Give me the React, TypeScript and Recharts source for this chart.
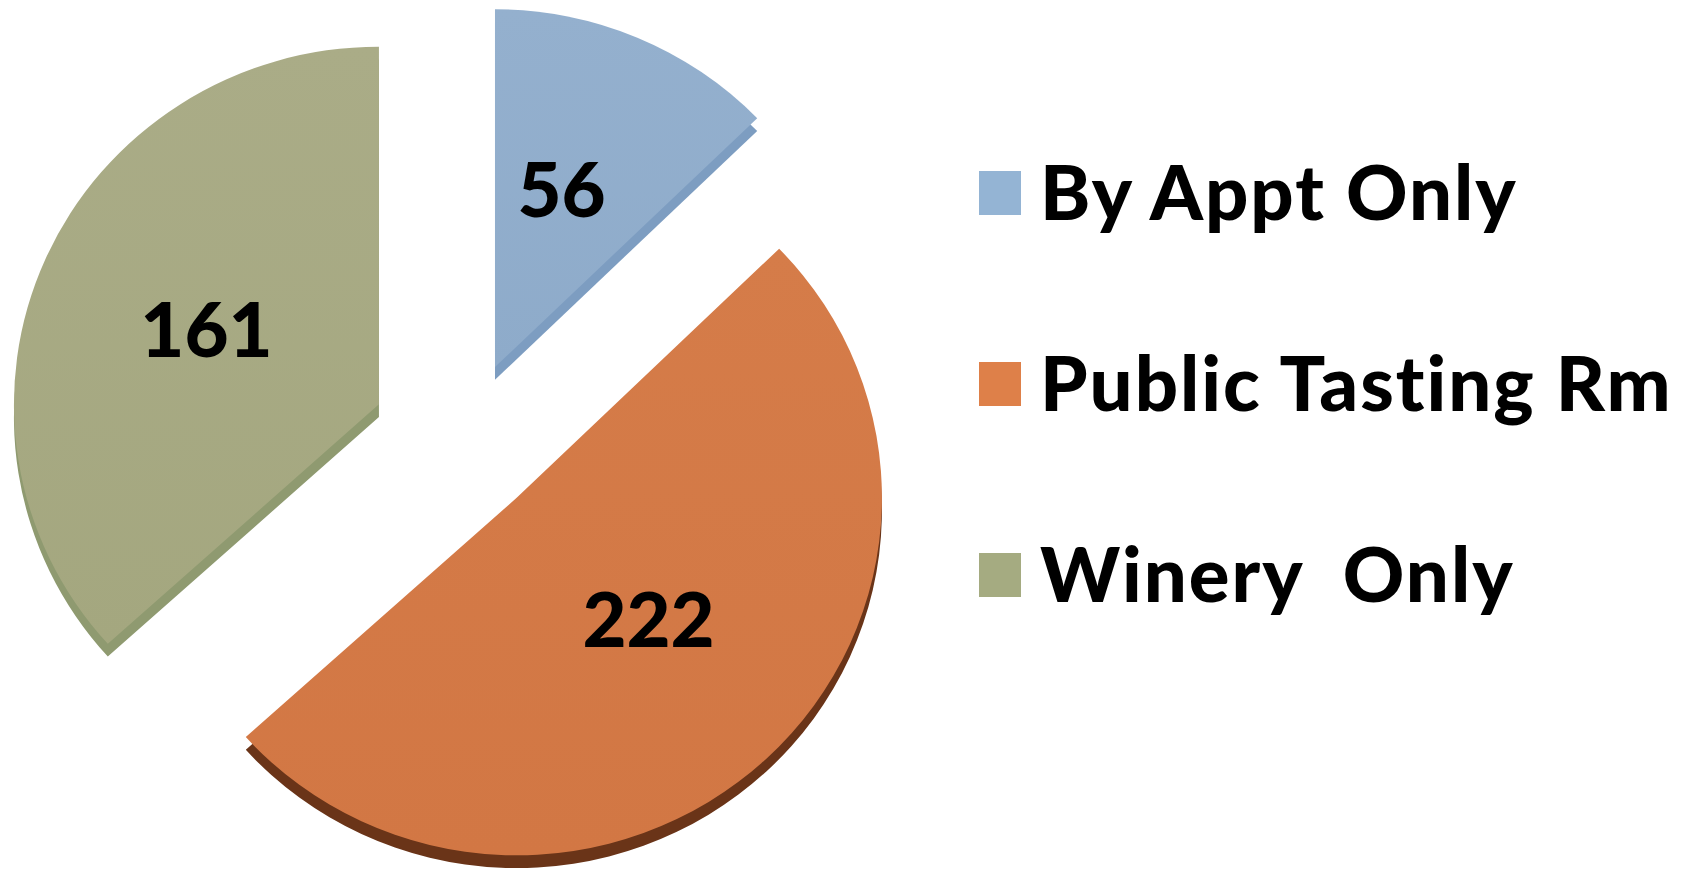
import { Legend, Pie, PieChart, Sector } from 'recharts'

const categories = ['By Appt Only', 'Public Tasting Rm', 'Winery  Only']
const counts = [56, 222, 161]

const faceTop = ['#94B0CE', '#D57C49', '#AAAC87']
const faceBottom = ['#8EABCA', '#D27744', '#A4A77F']
const sideColors = ['#7D9DC1', '#6A3418', '#8F9A70']
const legendColors = ['#94B4D4', '#DE8049', '#A5AB81']
const explode = [82, 79, 92]

// slight 3D tilt: the pie is squashed a little vertically
const CX = 463
const CY = 441
const SX = 1
const SY = 0.98
const DEPTH = 13
const LABEL_R = 186
const LABEL_TURN = 2
const RAD = Math.PI / 180

const data = categories.map((name, i) => ({ name, value: counts[i] }))

function sliceIndex(props: any) {
  const name = props.name ?? props.payload?.name
  const i = categories.indexOf(name)
  return i < 0 ? (props.index ?? 0) : i
}

function ExplodedSlice(props: any) {
  const { cx, cy, outerRadius, startAngle, endAngle, midAngle } = props
  const i = sliceIndex(props)
  const d = explode[i] ?? 0
  const x = cx + d * Math.cos(-midAngle * RAD)
  const y = cy + d * Math.sin(-midAngle * RAD)
  const tilt = `translate(${cx} ${cy}) scale(${SX} ${SY}) translate(${-cx} ${-cy})`
  return (
    <g transform={tilt}>
      <defs>
        <linearGradient id={`face-${i}`} x1="0" y1="0" x2="0" y2="1">
          <stop offset="0%" stopColor={faceTop[i]} />
          <stop offset="100%" stopColor={faceBottom[i]} />
        </linearGradient>
      </defs>
      <Sector
        cx={x}
        cy={y + DEPTH}
        innerRadius={0}
        outerRadius={outerRadius}
        startAngle={startAngle}
        endAngle={endAngle}
        fill={sideColors[i]}
      />
      <Sector
        cx={x}
        cy={y}
        innerRadius={0}
        outerRadius={outerRadius}
        startAngle={startAngle}
        endAngle={endAngle}
        fill={`url(#face-${i})`}
      />
    </g>
  )
}

function renderLabel(props: any) {
  const { cx, cy, midAngle, value } = props
  const i = sliceIndex(props)
  const d = explode[i]
  const ax = d * Math.cos(-midAngle * RAD)
  const ay = d * Math.sin(-midAngle * RAD)
  const a = (midAngle + LABEL_TURN) * RAD
  const lx = ax + LABEL_R * Math.cos(-a)
  const ly = ay + LABEL_R * Math.sin(-a)
  return (
    <text
      x={cx + lx * SX}
      y={cy + ly * SY - 9}
      textAnchor="middle"
      dominantBaseline="central"
      fill="#000"
      fontFamily="Lato, 'DejaVu Sans', sans-serif"
      fontWeight={900}
      fontSize={76}
    >
      {value}
    </text>
  )
}

function LegendContent({ payload }: any) {
  return (
    <div>
      {(payload ?? []).map((entry: any, i: number) => (
        <div key={entry.value} style={{ display: 'flex', alignItems: 'center', height: 191 }}>
          <span
            style={{
              display: 'inline-block',
              width: 42,
              height: 44,
              background: legendColors[i],
              marginRight: 19,
            }}
          />
          <span
            style={{
              fontFamily: "Lato, 'DejaVu Sans', sans-serif",
              fontWeight: 900,
              fontSize: 76,
              letterSpacing: 2,
              color: '#000',
              whiteSpace: 'pre',
              lineHeight: 1,
              position: 'relative',
              top: -2,
            }}
          >
            {entry.value}
          </span>
        </div>
      ))}
    </div>
  )
}

export default function App() {
  return (
    <div style={{ position: 'absolute', left: 0, top: 0, background: '#fff' }}>
      <PieChart width={1691} height={870} margin={{ top: 0, right: 0, bottom: 0, left: 0 }}>
        <Pie
          data={data}
          dataKey="value"
          nameKey="name"
          cx={CX}
          cy={CY}
          outerRadius={365}
          startAngle={90}
          endAngle={-270}
          stroke="none"
          shape={ExplodedSlice}
          activeShape={ExplodedSlice}
          inactiveShape={ExplodedSlice}
          label={renderLabel}
          labelLine={false}
          isAnimationActive={false}
        />
        <Legend
          layout="vertical"
          content={<LegendContent />}
          wrapperStyle={{ position: 'absolute', left: 979, top: 97, width: 712 }}
        />
      </PieChart>
    </div>
  )
}
